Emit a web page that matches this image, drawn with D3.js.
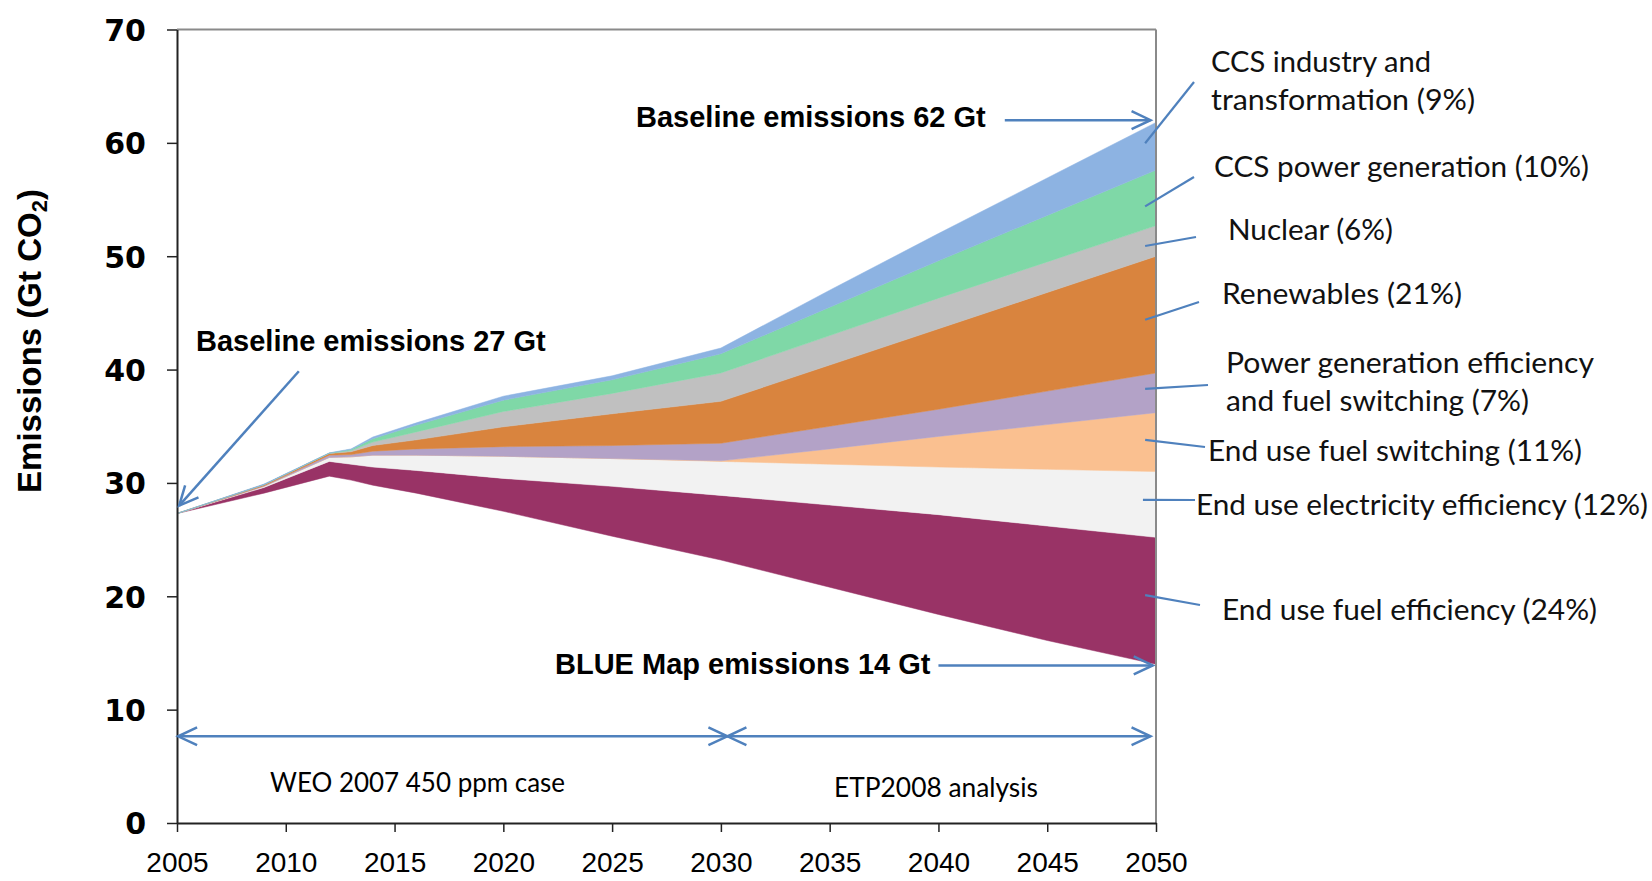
<!DOCTYPE html>
<html><head><meta charset="utf-8">
<script src="https://cdn.jsdelivr.net/npm/d3@7"></script>
<style>body{margin:0;background:#fff;} svg{display:block;}</style>
</head><body><svg id="c" width="1652" height="881"></svg>
<script>
// ---- data ----
const years       = [2005, 2009, 2012, 2013, 2014, 2016, 2020, 2025, 2030, 2035, 2040, 2045, 2050];
const blueMap     = [27.3, 29.1, 30.6, 30.25, 29.8, 29.1, 27.5, 25.3, 23.2, 20.8, 18.4, 16.1, 14.0];
const fuelEff     = [0, 0.5, 1.3, 1.4, 1.6, 2.0, 2.9, 4.4, 5.7, 7.25, 8.8, 10.1, 11.2];
const elecEff     = [0, 0.1, 0.35, 0.65, 1.05, 1.35, 1.95, 2.45, 3.0, 3.6, 4.2, 5.0, 5.8];
const fuelSwitch  = [0, 0, 0, 0, 0, 0, 0, 0, 0.05, 1.35, 2.7, 3.95, 5.2];
const pgEff       = [0, 0.05, 0.2, 0.2, 0.35, 0.55, 0.85, 1.15, 1.55, 2.0, 2.4, 2.95, 3.5];
const renewables  = [0, 0.1, 0.15, 0.25, 0.5, 0.8, 1.75, 2.8, 3.7, 5.4, 7.1, 8.7, 10.3];
const nuclear     = [0, 0, 0.02, 0.1, 0.3, 0.7, 1.35, 1.8, 2.5, 2.6, 2.7, 2.7, 2.7];
const ccsPower    = [0, 0, 0.01, 0.1, 0.3, 0.6, 1.0, 1.2, 1.7, 2.5, 3.3, 4.1, 4.9];
const ccsIndustry = [0, 0.05, 0.02, 0.05, 0.15, 0.2, 0.35, 0.35, 0.5, 1.5, 2.4, 3.3, 4.2];

const seriesKeys   = ["blueMap","fuelEff","elecEff","fuelSwitch","pgEff","renewables","nuclear","ccsPower","ccsIndustry"];
const seriesColors = ["none","#993366","#F2F2F2","#FAC090","#B3A2C7","#D9843E","#C0C0C0","#7FD8A7","#8DB3E2"];
const seriesData   = {blueMap, fuelEff, elecEff, fuelSwitch, pgEff, renewables, nuclear, ccsPower, ccsIndustry};

const yTicks = [0,10,20,30,40,50,60,70];
const xTicks = [2005,2010,2015,2020,2025,2030,2035,2040,2045,2050];

const labels = [
  {lines:["CCS industry and","transformation (9%)"], x:1211, ys:[72,110], w:[220,264], lead:[2049.5,59.96], to:[1194,82]},
  {lines:["CCS power generation (10%)"], x:1214, ys:[177], w:[375], lead:[2049.5,54.4], to:[1194,177]},
  {lines:["Nuclear (6%)"], x:1228, ys:[240], w:[165], lead:[2049.5,50.9], to:[1196,237]},
  {lines:["Renewables (21%)"], x:1222, ys:[304], w:[240], lead:[2049.5,44.4], to:[1199,302]},
  {lines:["Power generation efficiency","and fuel switching (7%)"], x:1226, ys:[373,411], w:[368,303], lead:[2049.5,38.3], to:[1208,385]},
  {lines:["End use fuel switching (11%)"], x:1208, ys:[461], w:[374], lead:[2049.5,33.8], to:[1205,447]},
  {lines:["End use electricity efficiency (12%)"], x:1196, ys:[515], w:[452], lead:[2049.4,28.5], to:[1195,500]},
  {lines:["End use fuel efficiency (24%)"], x:1222, ys:[620], w:[375], lead:[2049.5,20.1], to:[1200,605]}
];

// ---- scales ----
const svg = d3.select("#c");
const x = d3.scaleLinear().domain([2005,2050]).range([177,1156]);
const y = d3.scaleLinear().domain([0,70]).range([823,29.5]);

const rows = years.map((yr,i)=>{
  const r = {year:yr};
  seriesKeys.forEach(k=> r[k] = seriesData[k][i]);
  return r;
});
const stacked = d3.stack().keys(seriesKeys)(rows);
const area = d3.area().x(d=>x(d.data.year)).y0(d=>y(d[0])).y1(d=>y(d[1]));

svg.append("g").selectAll("path").data(stacked).join("path")
  .attr("d", area)
  .attr("fill", (d,i)=>seriesColors[i])
  .attr("stroke", (d,i)=> i===0 ? "none" : seriesColors[i])
  .attr("stroke-width", 0.5);

// plot frame (top & right gray)
svg.append("line").attr("x1",x(2005)).attr("x2",x(2050)).attr("y1",y(70)).attr("y2",y(70))
  .attr("stroke","#8a8a8a").attr("stroke-width",2);
svg.append("line").attr("x1",x(2050)).attr("x2",x(2050)).attr("y1",y(70)).attr("y2",y(0))
  .attr("stroke","#8a8a8a").attr("stroke-width",2);

// axes
const gy = svg.append("g").attr("transform",`translate(${x(2005)},0)`)
  .call(d3.axisLeft(y).tickValues(yTicks).tickSize(10).tickPadding(21).tickSizeOuter(0));
gy.selectAll("text").attr("font-family","DejaVu Sans").attr("font-weight","bold")
  .attr("font-size",30).attr("fill","#000").attr("dy","0.36em");
const gx = svg.append("g").attr("transform",`translate(0,${y(0)})`)
  .call(d3.axisBottom(x).tickValues(xTicks).tickFormat(d3.format("d")).tickSize(9).tickPadding(20).tickSizeOuter(0));
gx.selectAll("text").attr("font-family","Liberation Sans, Arial").attr("font-size",28).attr("fill","#000");
[gx, gy].forEach(g=>{
  g.selectAll("line").attr("stroke","#222").attr("stroke-width",1.5);
  g.select(".domain").attr("stroke","#222").attr("stroke-width",2);
});

// y-axis title
const yt = svg.append("text").attr("transform","translate(41,341) rotate(-90)")
  .attr("text-anchor","middle").attr("font-family","Liberation Sans, Arial")
  .attr("font-weight","bold").attr("font-size",33).attr("fill","#000");
yt.append("tspan").text("Emissions (Gt CO");
yt.append("tspan").text("2").attr("font-size",22).attr("dy",6);
yt.append("tspan").text(")").attr("dy",-6);

// arrows
const blue = "#4F81BD";
function head(x1,y1,x2,y2){
  const a = Math.atan2(y2-y1, x2-x1), L = 21, s = 0.44;
  const p1 = [x2 - L*Math.cos(a - s), y2 - L*Math.sin(a - s)];
  const p2 = [x2 - L*Math.cos(a + s), y2 - L*Math.sin(a + s)];
  svg.append("path").attr("d",`M${p1}L${x2},${y2}L${p2}`).attr("fill","none")
    .attr("stroke",blue).attr("stroke-width",2.5);
}
function arrow(a,b,both){
  const x1=x(a[0]), y1=y(a[1]), x2=x(b[0]), y2=y(b[1]);
  svg.append("line").attr("x1",x1).attr("y1",y1).attr("x2",x2).attr("y2",y2)
    .attr("stroke",blue).attr("stroke-width",2.5);
  head(x1,y1,x2,y2);
  if(both) head(x2,y2,x1,y1);
}
arrow([2043.05,62],[2049.75,62]);
arrow([2040.0,13.9],[2049.85,13.9]);
arrow([2010.6,39.85],[2005.1,28.0]);
arrow([2005.05,7.65],[2030.3,7.65],true);
arrow([2030.3,7.65],[2049.75,7.65],true);

// bold annotations
const bold = [
  {t:"Baseline emissions 62 Gt", x:636, y:127},
  {t:"Baseline emissions 27 Gt", x:196, y:351},
  {t:"BLUE Map emissions 14 Gt", x:555, y:674}
];
svg.append("g").selectAll("text").data(bold).join("text")
  .attr("x",d=>d.x).attr("y",d=>d.y).text(d=>d.t)
  .attr("font-family","Liberation Sans, Arial").attr("font-weight","bold")
  .attr("font-size",29).attr("fill","#000");

// period labels
const periods = [
  {t:"WEO 2007 450 ppm case", x:270, y:792, w:295},
  {t:"ETP2008 analysis", x:834, y:797, w:204}
];
svg.append("g").selectAll("text").data(periods).join("text")
  .attr("x",d=>d.x).attr("y",d=>d.y).text(d=>d.t)
  .attr("textLength",d=>d.w).attr("lengthAdjust","spacingAndGlyphs")
  .attr("font-family","Lato").attr("font-size",26).attr("fill","#000");

// right labels + leader lines
labels.forEach(l=>{
  svg.append("line").attr("x1",x(l.lead[0])).attr("y1",y(l.lead[1]))
    .attr("x2",l.to[0]).attr("y2",l.to[1]).attr("stroke",blue).attr("stroke-width",2.2);
  l.lines.forEach((s,i)=>{
    svg.append("text").attr("x",l.x).attr("y",l.ys[i]).text(s)
      .attr("textLength",l.w[i]).attr("lengthAdjust","spacingAndGlyphs")
      .attr("font-family","Lato").attr("font-size",28).attr("fill","#111");
  });
});
</script></body></html>
